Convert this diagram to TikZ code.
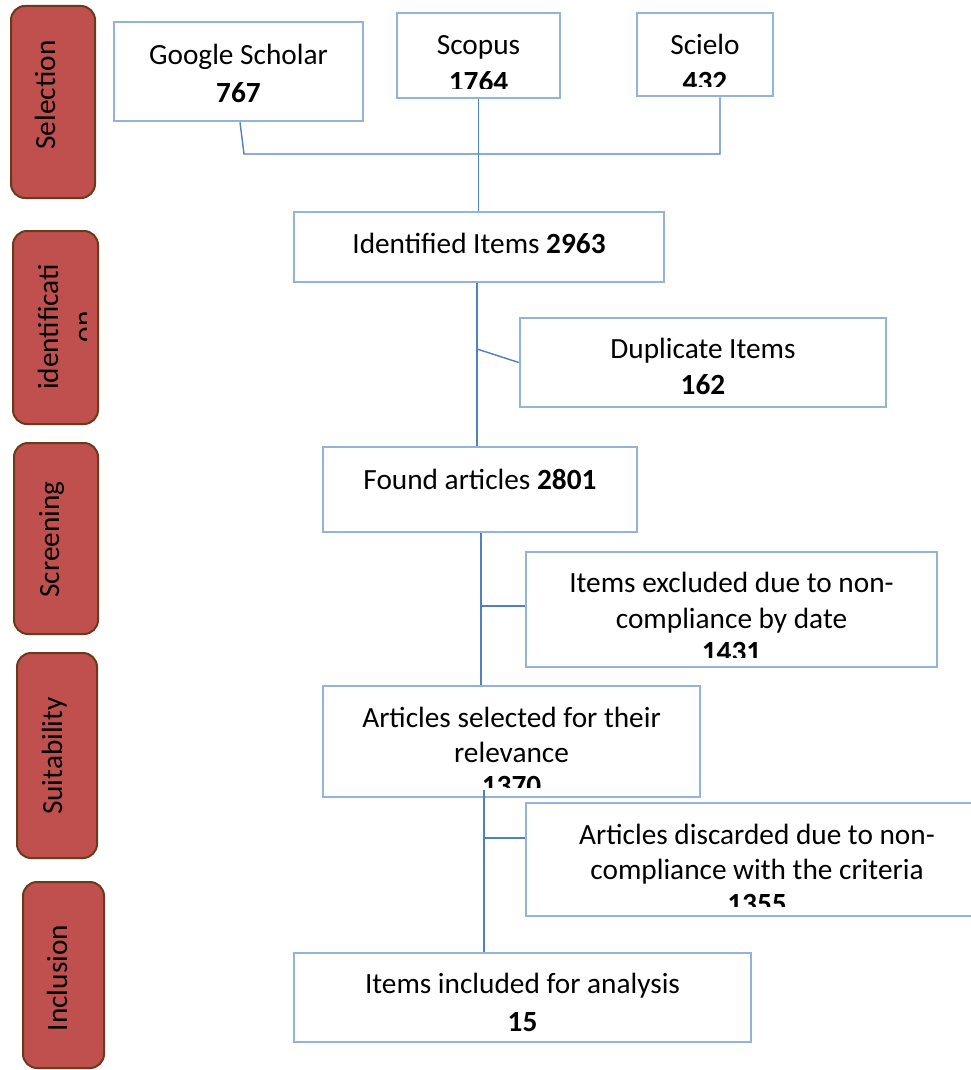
\documentclass[tikz,border=0pt]{standalone}
\usepackage{fontspec}
\setmainfont{Carlito}
\definecolor{phasered}{HTML}{C0504D}
\definecolor{phasebrown}{HTML}{6B3A1C}
\definecolor{boxblue}{HTML}{95B3D7}
\definecolor{linkblue}{HTML}{4F81BD}
\begin{document}
\begin{tikzpicture}[x=1pt,y=-1pt,
  phase/.style={rounded corners=14pt, fill=phasered, draw=phasebrown, line width=2pt},
  phasetxt/.style={rotate=90, inner sep=0pt, anchor=base, font=\fontsize{29.3}{36}\selectfont},
  box/.style={draw=boxblue, line width=2.6pt, fill=white, inner sep=0pt},
  txt/.style={anchor=base, inner sep=0pt, font=\fontsize{29.3}{36}\selectfont},
  link/.style={draw=linkblue, line width=1.4pt}]
\useasboundingbox (0,0) rectangle (971,1070);
\fill[white] (0,0) rectangle (971,1070);

% phase labels
\node[phase, minimum width=84pt, minimum height=192pt] (p1) at (53,102) {};
\node[phasetxt] (p1t) at (55,95) {Selection};
\node[phase, minimum width=85pt, minimum height=193pt] (p2) at (55.5,327.5) {};
\begin{scope}
  \clip (13,231) rectangle (86,424);
  \node[phasetxt] (p2t) at (58,327) {identificati};
  \node[phasetxt] (p2u) at (93,327) {on};
\end{scope}
\node[phase, minimum width=84pt, minimum height=191pt] (p3) at (56,538.5) {};
\node[phasetxt] (p3t) at (59,539.5) {Screening};
\node[phase, minimum width=80pt, minimum height=205pt] (p4) at (57,755.5) {};
\node[phasetxt] (p4t) at (62,756) {Suitability};
\node[phase, minimum width=81pt, minimum height=186pt] (p5) at (63.5,975) {};
\node[phasetxt] (p5t) at (67,978) {Inclusion};

% boxes
\node[box, minimum width=249pt, minimum height=99pt] (gs) at (238.5,71.5) {};
\node[box, minimum width=163pt, minimum height=85pt] (sc) at (478.5,55.5) {};
\node[box, minimum width=136pt, minimum height=83pt] (si) at (705,54.5) {};
\node[box, minimum width=370pt, minimum height=70pt] (id) at (479,247) {};
\node[box, minimum width=366pt, minimum height=89pt] (dup) at (703,362.5) {};
\node[box, minimum width=314pt, minimum height=85pt] (found) at (480,489.5) {};
\node[box, minimum width=411pt, minimum height=115pt] (excl) at (731.5,609.5) {};
\node[box, minimum width=377pt, minimum height=111pt] (sel) at (511.5,741.5) {};
\node[box, minimum width=462pt, minimum height=113pt] (disc) at (757,859.5) {};
\node[box, minimum width=457pt, minimum height=89pt] (inc) at (522.5,997.5) {};

% box texts (clipped at the inner bottom margin, as in the source)
\node[txt] (gs1) at ([yshift=-43.5pt]gs.north) {Google Scholar};
\node[txt] (gs2) at ([yshift=-82pt]gs.north) {\textbf{767}};
\begin{scope}
  \clip ([yshift=10.5pt]sc.south west) rectangle (sc.north east);
  \node[txt] (sc1) at ([yshift=-42.5pt]sc.north) {Scopus};
  \node[txt] (sc2) at ([yshift=-80pt]sc.north) {\textbf{1764}};
\end{scope}
\begin{scope}
  \clip ([yshift=10.5pt]si.south west) rectangle (si.north east);
  \node[txt] (si1) at ([yshift=-42.5pt]si.north) {Scielo};
  \node[txt] (si2) at ([yshift=-80pt]si.north) {\textbf{432}};
\end{scope}
\node[txt] (id1) at ([yshift=-42.5pt]id.north) {Identified Items \textbf{2963}};
\node[txt] (dup1) at ([yshift=-41.5pt]dup.north) {Duplicate Items};
\node[txt] (dup2) at ([yshift=-77.5pt]dup.north) {\textbf{162}};
\node[txt] (found1) at ([yshift=-43.5pt]found.north) {Found articles \textbf{2801}};
\begin{scope}
  \clip ([yshift=10.5pt]excl.south west) rectangle (excl.north east);
  \node[txt] (excl1) at ([yshift=-42pt]excl.north) {Items excluded due to non-};
  \node[txt] (excl2) at ([yshift=-78pt]excl.north) {compliance by date};
  \node[txt] (excl3) at ([yshift=-111pt]excl.north) {\textbf{1431}};
\end{scope}
\begin{scope}
  \clip ([yshift=10.5pt]sel.south west) rectangle (sel.north east);
  \node[txt] (sel1) at ([yshift=-42.5pt]sel.north) {Articles selected for their};
  \node[txt] (sel2) at ([yshift=-77.5pt]sel.north) {relevance};
  \node[txt] (sel3) at ([yshift=-111pt]sel.north) {\textbf{1370}};
\end{scope}
\begin{scope}
  \clip ([yshift=10.5pt]disc.south west) rectangle (disc.north east);
  \node[txt] (disc1) at ([yshift=-42.5pt]disc.north) {Articles discarded due to non-};
  \node[txt] (disc2) at ([yshift=-77.5pt]disc.north) {compliance with the criteria};
  \node[txt] (disc3) at ([yshift=-112pt]disc.north) {\textbf{1355}};
\end{scope}
\node[txt] (inc1) at ([yshift=-42pt]inc.north) {Items included for analysis};
\node[txt] (inc2) at ([yshift=-79.5pt]inc.north) {\textbf{15}};

% connectors
\coordinate (j1) at (244,154);
\coordinate (j2) at (720,154);
\draw[link] ([xshift=1.5pt]gs.south) -- (j1) -- (j2) -- ([xshift=15pt]si.south);
\draw[link] (sc.south) -- (sc.south |- id.north);
\draw[link] ([xshift=-2pt]id.south) -- ([xshift=-2pt]id.south |- found.north);
\coordinate (b1) at (477,349);
\draw[link] (b1) -- (dup.west);
\draw[link] ([xshift=1pt]found.south) -- ([xshift=1pt]found.south |- sel.north);
\coordinate (b2) at (481,606);
\draw[link] (b2) -- (b2 -| excl.west);
\coordinate (b3) at (484,838);
\draw[link] ([yshift=8pt]sel.south -| b3) -- (b3 |- inc.north);
\draw[link] (b3) -- (b3 -| disc.west);
\end{tikzpicture}
\end{document}
